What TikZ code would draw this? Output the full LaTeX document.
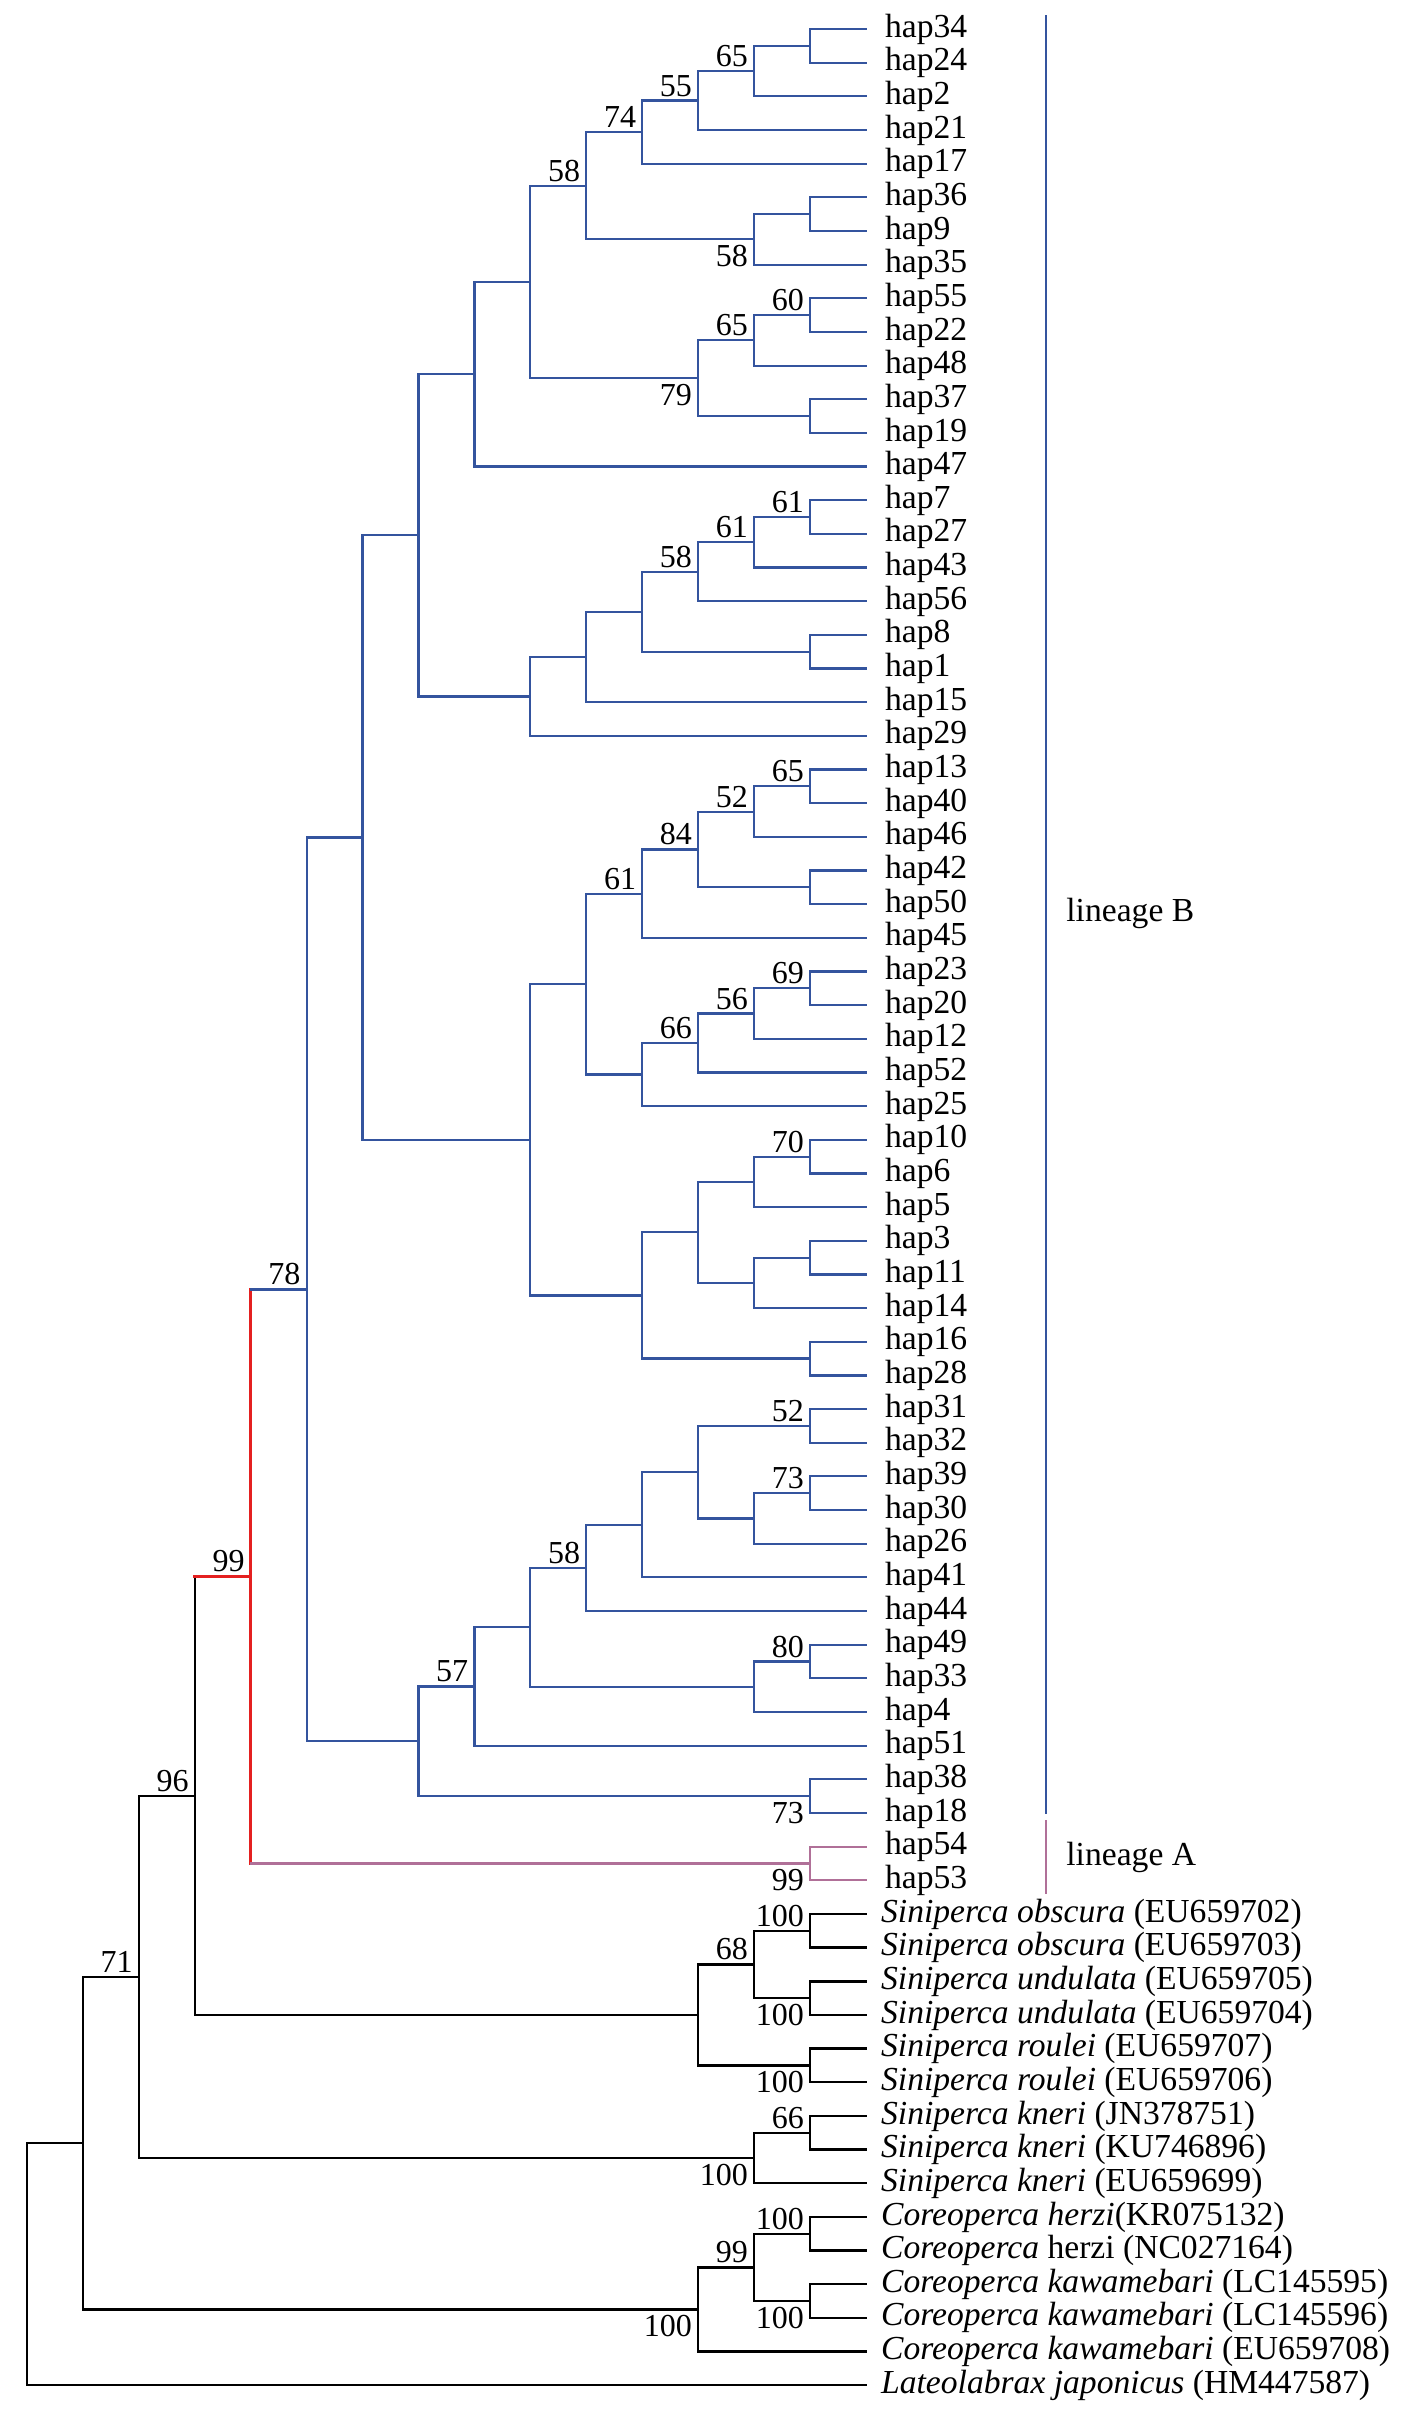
\documentclass[tikz,border=0pt]{standalone}
\usepackage{fontspec}
\setmainfont{Liberation Serif}
\usetikzlibrary{positioning}
\definecolor{linB}{RGB}{52,84,158}
\definecolor{linA}{RGB}{176,112,152}
\definecolor{stem}{RGB}{228,32,32}
\tikzset{
  blu/.style={draw=linB, line width=2.2pt},
  blk/.style={draw=black, line width=2.4pt},
  rd/.style={draw=stem, line width=2.8pt},
  pnk/.style={draw=linA, line width=2.2pt},
  tip/.style={anchor=west, inner sep=0pt, font=\fontsize{33.6}{36}\selectfont},
  bsup/.style={anchor=south east, inner sep=0pt, font=\fontsize{32}{34}\selectfont},
  bsdn/.style={anchor=north east, inner sep=0pt, font=\fontsize{32}{34}\selectfont},
}

\begin{document}
\begin{tikzpicture}[line cap=rect]
\useasboundingbox (0pt,0pt) rectangle (1423pt,-2423pt);
\begin{scope}[x=55.93pt, y=-33.66pt, shift={(27pt,4.66pt)}]

% leaves: haplotypes
\foreach \h [count=\i] in {34,24,2,21,17,36,9,35,55,22,48,37,19,47,7,27,43,56,8,1,15,29,13,40,46,42,50,45,23,20,12,52,25,10,6,5,3,11,14,16,28,31,32,39,30,26,41,44,49,33,4,51,38,18,54,53}
  {\coordinate (hap\h) at (15,\i);
   \node[tip, right=19pt of hap\h] (lab\h) {hap\h};}

% leaves: outgroups
\foreach \s/\t [count=\i from 57] in {
  obs1/{\textit{Siniperca obscura} (EU659702)},
  obs2/{\textit{Siniperca obscura} (EU659703)},
  und1/{\textit{Siniperca undulata} (EU659705)},
  und2/{\textit{Siniperca undulata} (EU659704)},
  rou1/{\textit{Siniperca roulei} (EU659707)},
  rou2/{\textit{Siniperca roulei} (EU659706)},
  kne1/{\textit{Siniperca kneri} (JN378751)},
  kne2/{\textit{Siniperca kneri} (KU746896)},
  kne3/{\textit{Siniperca kneri} (EU659699)},
  her1/{\textit{Coreoperca herzi}(KR075132)},
  her2/{\textit{Coreoperca} herzi (NC027164)},
  kaw1/{\textit{Coreoperca kawamebari} (LC145595)},
  kaw2/{\textit{Coreoperca kawamebari} (LC145596)},
  kaw3/{\textit{Coreoperca kawamebari} (EU659708)},
  lat/{\textit{Lateolabrax japonicus} (HM447587)}}
  {\coordinate (\s) at (15,\i);
   \node[tip, right=15pt of \s] (lab\s) {\t};}

% internal nodes (level, row)
\foreach \n/\l/\r in {Q/14/1.5, P/13/2.25, O/12/3.125, M/11/4.0625, Nq/14/6.5, N/13/7.25,
  K/10/5.65625, T/14/9.5, Rb/13/10.25, S/14/12.5, L/12/11.375, J/9/8.515625, I/8/11.2578,
  AA/14/15.5, Z/13/16.25, X/12/17.125, Y/14/19.5, W/11/18.3125, V/10/19.65625, U/9/20.828,
  H/7/16.043, II/14/23.5, GG/13/24.25, HH/14/26.5, FF/12/25.375, DD/11/26.6875,
  LL/14/29.5, KK/13/30.25, JJ/12/31.125, EE/11/32.0625, BB/10/29.375,
  QQ/14/34.5, OO/13/35.25, RR/14/37.5, PP/13/38.25, MM/12/36.75, NN/14/40.5, CC/11/38.625,
  G2/9/34.0, F/6/25.02, ZZ/14/42.5, AC/14/44.5, AB/13/45.25, YY/12/43.875, XX/11/45.4375,
  VV/10/46.71875, AD/14/49.5, WW/13/50.25, UU/9/48.484, SS/8/50.242, TT/14/53.5,
  G/7/51.871, E/5/38.445, LA/14/55.5, D/4/46.97,
  ob/14/57.5, un/14/59.5, SO/13/58.5, ro/14/61.5, Sin/12/60.0, C/3/53.49,
  kn66/14/63.5, kn/13/64.25, B/2/58.87, he/14/66.5, kw/14/68.5, C99/13/67.5,
  Co/12/68.75, A/1/63.81, Rt/0/67.4}
  \coordinate (\n) at (\l,\r);

% lineage B branches
\foreach \p/\c in {Q/hap34, Q/hap24, P/Q, P/hap2, O/P, O/hap21, M/O, M/hap17,
  Nq/hap36, Nq/hap9, N/Nq, N/hap35, K/M, K/N, T/hap55, T/hap22, Rb/T, Rb/hap48,
  S/hap37, S/hap19, L/Rb, L/S, J/K, J/L, I/J, I/hap47,
  AA/hap7, AA/hap27, Z/AA, Z/hap43, X/Z, X/hap56, Y/hap8, Y/hap1, W/X, W/Y,
  V/W, V/hap15, U/V, U/hap29, H/I, H/U,
  II/hap13, II/hap40, GG/II, GG/hap46, HH/hap42, HH/hap50, FF/GG, FF/HH, DD/FF, DD/hap45,
  LL/hap23, LL/hap20, KK/LL, KK/hap12, JJ/KK, JJ/hap52, EE/JJ, EE/hap25, BB/DD, BB/EE,
  QQ/hap10, QQ/hap6, OO/QQ, OO/hap5, RR/hap3, RR/hap11, PP/RR, PP/hap14, MM/OO, MM/PP,
  NN/hap16, NN/hap28, CC/MM, CC/NN, G2/BB, G2/CC, F/H, F/G2,
  ZZ/hap31, ZZ/hap32, AC/hap39, AC/hap30, AB/AC, AB/hap26, YY/ZZ, YY/AB, XX/YY, XX/hap41,
  VV/XX, VV/hap44, AD/hap49, AD/hap33, WW/AD, WW/hap4, UU/VV, UU/WW, SS/UU, SS/hap51,
  TT/hap38, TT/hap18, G/SS, G/TT, E/F, E/G}
  \draw[blu] (\p) |- (\c);

% lineage A branches
\draw[pnk] (LA) |- (hap54) (LA) |- (hap53);

% outgroup branches
\foreach \p/\c in {ob/obs1, ob/obs2, un/und1, un/und2, SO/ob, SO/un, ro/rou1, ro/rou2,
  Sin/SO, Sin/ro, C/Sin, kn66/kne1, kn66/kne2, kn/kn66, kn/kne3, B/C, B/kn,
  he/her1, he/her2, kw/kaw1, kw/kaw2, C99/he, C99/kw, Co/C99, Co/kaw3,
  A/B, A/Co, Rt/A, Rt/lat}
  \draw[blk] (\p) |- (\c);

% stem of the ingroup
\draw[blk] (C) -- (C |- D);
\draw[rd] (C |- D) -- (D);
\draw[rd] (D) -- (D |- E);
\draw[rd] (D) -- (D |- LA);
\draw[blu] (D |- E) -- (E);
\draw[pnk] (D |- LA) -- (LA);

% bootstrap values
\foreach \n/\v in {P/65, O/55, M/74, K/58, Rb/65, T/60, AA/61, Z/61, X/58, II/65, GG/52,
  FF/84, DD/61, LL/69, KK/56, JJ/66, QQ/70, ZZ/52, AC/73, VV/58, AD/80, SS/57, E/78,
  D/99, C/96, B/71, ob/100, SO/68, kn66/66, he/100, C99/99}
  \node[bsup] (bs\n) at ([xshift=-6pt, yshift=4pt]\n) {\v};
\foreach \n/\v in {N/58, L/79, TT/73, LA/99, un/100, ro/100, kn/100, kw/100, Co/100}
  \node[bsdn] (bs\n) at ([xshift=-6pt, yshift=-6pt]\n) {\v};

% lineage bars
\draw[linB, line width=2.5pt] (18.22,0.614) -- (18.22,54.0);
\draw[linA, line width=2.5pt] (18.22,54.24) -- (18.22,56.38);
\node[tip] (linBname) at (18.58,27.29) {lineage B};
\node[tip] (linAname) at (18.58,55.31) {lineage A};
\end{scope}
\end{tikzpicture}
\end{document}
